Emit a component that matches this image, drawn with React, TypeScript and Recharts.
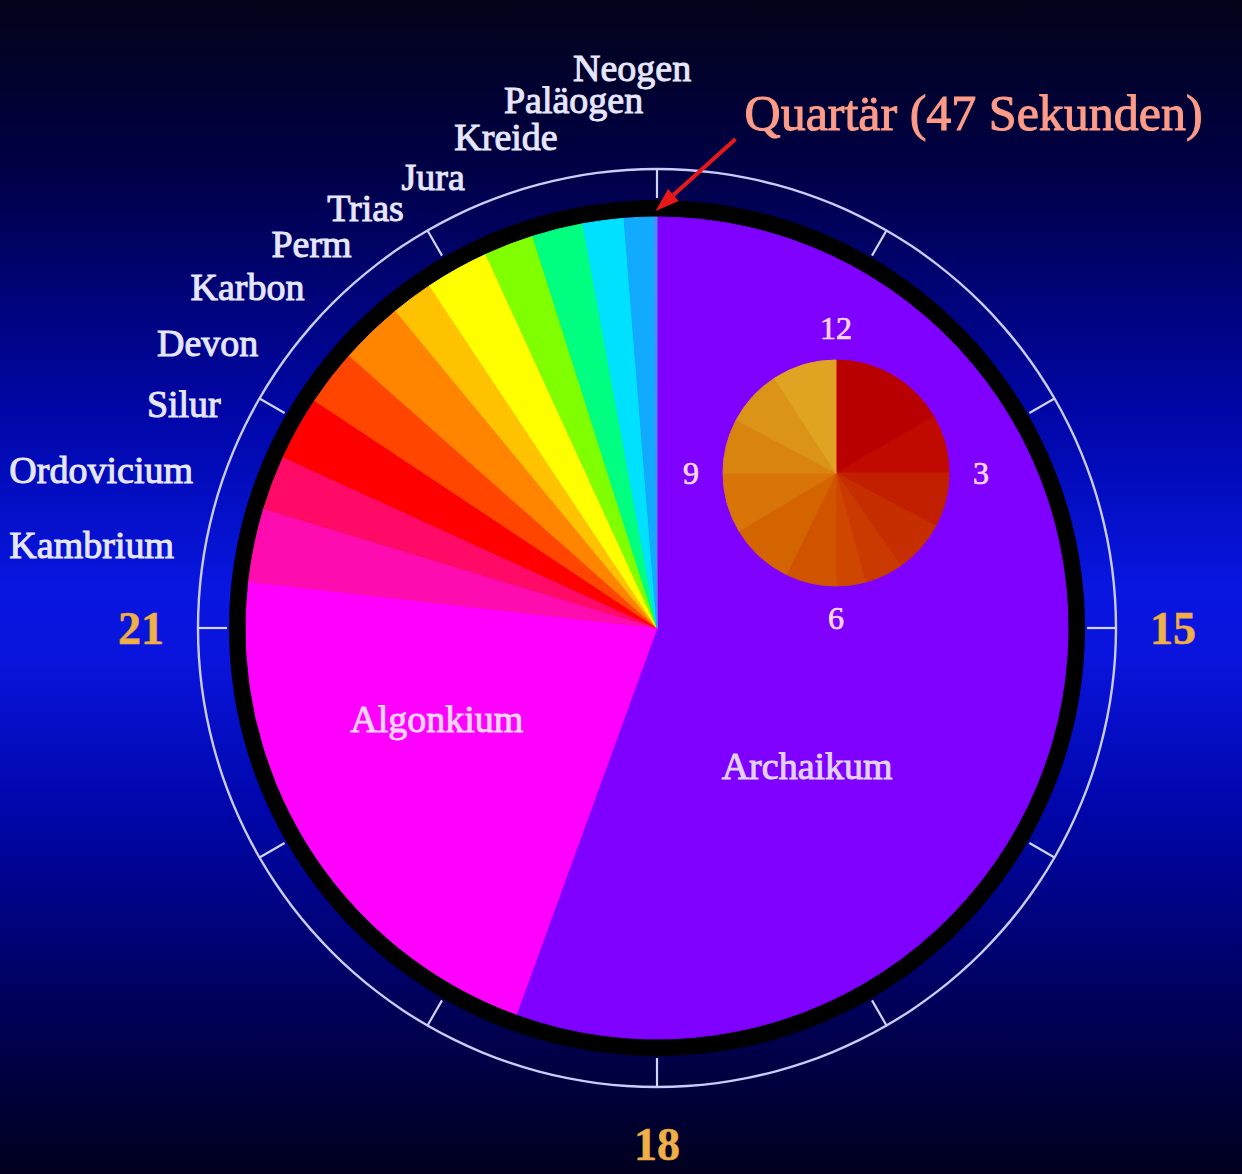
import React from 'react';
import { PieChart, Pie, Cell } from 'recharts';

// Erdzeitalter auf einem 12-Stunden-Zifferblatt (Winkel in Grad, Summe 360)
const periods = ['Archaikum', 'Algonkium', 'Kambrium', 'Ordovicium', 'Silur', 'Devon', 'Karbon', 'Perm', 'Trias', 'Jura', 'Kreide', 'Paläogen', 'Neogen', 'Quartär'];
const periodDegrees = [200, 76.5, 10.4, 7.7, 9, 7.9, 9, 5.9, 9, 7, 7.2, 5.8, 4.2, 0.4];
const periodColors = ['#7f00ff', '#ff00ff', '#ff0cb0', '#ff0a66', '#ff0000', '#ff4500', '#ff8400', '#ffc200', '#ffff00', '#80ff00', '#00ff80', '#00e0ff', '#12aaff', '#4d8cff'];
const quartaerLabel = 'Quartär (47 Sekunden)';

// Zifferblatt
const clockHours = [12, 13, 14, 15, 16, 17, 18, 19, 20, 21, 22, 23];
const shownHours = [15, 18, 21];

// kleine Uhr
const smallSegments = [60, 30, 28, 27, 20, 15, 26, 33, 31, 28, 29, 33];
const smallColors = ['#b80000', '#c00a00', '#c21e00', '#c62e00', '#ca3a00', '#ce4600', '#d05400', '#d46400', '#d87408', '#da8410', '#dc9418', '#e0a422'];
const smallClockLabels = ['12', '3', '6', '9'];

const periodData = periods.map((name, i) => ({ name, value: periodDegrees[i] }));
const hourData = clockHours.map(h => ({ name: String(h), value: 1 }));
const smallData = smallSegments.map((v, i) => ({ name: `Segment ${i + 1}`, value: v }));
const smallLabelData = smallClockLabels.map(l => ({ name: l, value: 1 }));
const ringData = [{ name: 'ring', value: 1 }];

const CX = 657;
const CY = 628;
const SMALL_CX = 836;
const SMALL_CY = 473;
const FONT = "'Liberation Serif', 'Times New Roman', serif";
const RAD = Math.PI / 180;

const polar = (cx: number, cy: number, r: number, angle: number) => ({
    x: cx + r * Math.cos(-angle * RAD),
    y: cy + r * Math.sin(-angle * RAD),
});

const TickShape = (props: any) => {
    const { cx, cy, startAngle, endAngle, innerRadius, outerRadius } = props;
    const mid = (startAngle + endAngle) / 2;
    const a = polar(cx, cy, innerRadius, mid);
    const b = polar(cx, cy, outerRadius, mid);
    return <line x1={a.x} y1={a.y} x2={b.x} y2={b.y} stroke="#d0d4ff" strokeWidth={2.2} />;
};

const renderHourLabel = (props: any) => {
    const { cx, cy, midAngle, index } = props;
    const hour = clockHours[index];
    if (!shownHours.includes(hour)) return null;
    const p = polar(cx, cy, 516, midAngle);
    return (
        <text key={`h-${index}`} x={p.x} y={p.y} dy="0.35em" textAnchor="middle" fill="#f0b048" stroke="#e8a440" strokeWidth={0.6}
            fontFamily={FONT} fontWeight={700} fontSize={46}>
            {hour}
        </text>
    );
};

const renderSmallLabel = (props: any) => {
    const { cx, cy, midAngle, index } = props;
    const p = polar(cx, cy, 145, midAngle);
    return (
        <text key={`s-${index}`} x={p.x} y={p.y} dy="0.35em" textAnchor="middle" fill="#ffd8ee" stroke="#ffd8ee" strokeWidth={0.7}
            fontFamily={FONT} fontSize={32}>
            {smallClockLabels[index]}
        </text>
    );
};

const innerPlacement: Record<string, { r: number; angle: number; color: string }> = {
    Archaikum: { r: 204, angle: -42.6, color: '#e2d2ff' },
    Algonkium: { r: 238, angle: -157.7, color: '#f6d2ff' },
};

const renderPeriodLabel = (props: any) => {
    const { cx, cy, midAngle, outerRadius, index } = props;
    const name = periods[index];

    if (innerPlacement[name]) {
        const { r, angle, color } = innerPlacement[name];
        const p = polar(cx, cy, r, angle);
        return (
            <text key={`p-${index}`} x={p.x} y={p.y} dy="0.35em" textAnchor="middle" fill={color} stroke={color} strokeWidth={1}
                fontFamily={FONT} fontSize={38}>
                {name}
            </text>
        );
    }

    if (name === 'Quartär') {
        const tip = polar(cx, cy, outerRadius + 6, midAngle);
        const tail = { x: tip.x + 80, y: tip.y - 72 };
        const len = Math.hypot(tail.x - tip.x, tail.y - tip.y);
        const ux = (tip.x - tail.x) / len;
        const uy = (tip.y - tail.y) / len;
        const head = 24;
        const bx = tip.x - ux * head;
        const by = tip.y - uy * head;
        return (
            <g key={`p-${index}`}>
                <line x1={tail.x} y1={tail.y} x2={bx} y2={by} stroke="#e81818" strokeWidth={4} />
                <polygon
                    points={`${tip.x},${tip.y} ${bx - uy * 8},${by + ux * 8} ${bx + uy * 8},${by - ux * 8}`}
                    fill="#e81818"
                />
                <text x={tip.x + 89} y={tip.y - 81} fill="#ff9c88" stroke="#ff9c88" strokeWidth={1}
                    fontFamily={FONT} fontSize={50}>
                    {quartaerLabel}
                </text>
            </g>
        );
    }

    // Beschriftung außen: am Zifferblatt entlang, oben etwas zusammengeschoben
    const a = (((midAngle - 90) % 360) + 360) % 360;
    const crowd = Math.max(0, 21 - a);
    const b = a + 2 - Math.min(8, 0.65 * crowd);
    const r = 490 + 0.205 * crowd * crowd;
    const p = polar(cx, cy, r, 90 + b);
    return (
        <text key={`p-${index}`} x={p.x} y={p.y} dy="0.33em" textAnchor="end" fill="#e6e6ff" stroke="#e6e6ff" strokeWidth={1}
            fontFamily={FONT} fontSize={38}>
            {name}
        </text>
    );
};

export default function App() {
    return (
        <div
            style={{
                position: 'absolute',
                left: 0,
                top: 0,
                width: 1242,
                height: 1174,
                overflow: 'hidden',
                background:
                    'linear-gradient(to bottom, #03031a 0%, #000048 15%, #0006a6 35%, #0816e0 50%, #0a14dc 56%, #0006aa 69%, #00005c 85%, #00001e 100%)',
            }}
        >
            <PieChart width={1242} height={1174} margin={{ top: 0, right: 0, bottom: 0, left: 0 }}>
                {/* äußerer Kreis */}
                <Pie data={ringData} dataKey="value" cx={CX} cy={CY} innerRadius={457.8} outerRadius={460.2}
                    fill="#c8ccff" stroke="none" isAnimationActive={false} />
                {/* Stundenstriche */}
                <Pie data={hourData} dataKey="value" cx={CX} cy={CY} innerRadius={430} outerRadius={459}
                    startAngle={105} endAngle={-255} fill="none" stroke="none"
                    shape={TickShape} inactiveShape={TickShape} activeShape={TickShape}
                    label={renderHourLabel} labelLine={false} isAnimationActive={false} />
                {/* schwarzer Rand */}
                <Pie data={ringData} dataKey="value" cx={CX} cy={CY} innerRadius={410} outerRadius={428}
                    fill="#000000" stroke="none" isAnimationActive={false} />
                {/* Erdzeitalter */}
                <Pie data={periodData} dataKey="value" nameKey="name" cx={CX} cy={CY} innerRadius={0} outerRadius={411}
                    startAngle={90} endAngle={-270} label={renderPeriodLabel} labelLine={false} isAnimationActive={false}>
                    {periodData.map((d, i) => (
                        <Cell key={d.name} fill={periodColors[i]} stroke={periodColors[i]} strokeWidth={1} />
                    ))}
                </Pie>
                {/* kleine Uhr */}
                <Pie data={smallData} dataKey="value" cx={SMALL_CX} cy={SMALL_CY} innerRadius={0} outerRadius={113}
                    startAngle={90} endAngle={-270} isAnimationActive={false}>
                    {smallData.map((d, i) => (
                        <Cell key={d.name} fill={smallColors[i]} stroke={smallColors[i]} strokeWidth={1} />
                    ))}
                </Pie>
                <Pie data={smallLabelData} dataKey="value" cx={SMALL_CX} cy={SMALL_CY} innerRadius={112} outerRadius={113}
                    startAngle={135} endAngle={-225} fill="none" stroke="none"
                    label={renderSmallLabel} labelLine={false} isAnimationActive={false} />
            </PieChart>
        </div>
    );
}
